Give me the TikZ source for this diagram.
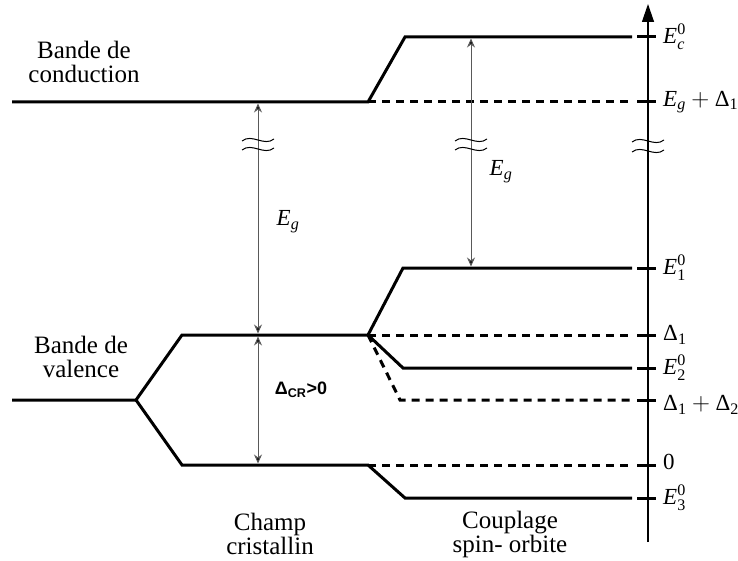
\documentclass[tikz,border=0pt]{standalone}
\usepackage{amsmath}
\usepackage{fontspec}
\setmainfont{Liberation Serif}
\setsansfont{Liberation Sans}
\usetikzlibrary{arrows.meta}
\newcommand{\vE}{\textit{E}}
\newcommand{\vD}{\text{Δ}}
\newcommand{\vi}[1]{\textit{#1}}
\newcommand{\vn}[1]{\text{#1}}
\begin{document}
\begin{tikzpicture}[x=1pt,y=-1pt,
  level/.style={line width=3pt},
  dlevel/.style={line width=3pt,dash pattern=on 8pt off 6pt},
  tick/.style={line width=3pt},
  gap/.style={draw=black!65,line width=1pt,{Stealth[length=9pt,width=8pt,fill=black]}-{Stealth[length=9pt,width=8pt,fill=black]},shorten <=1.5pt,shorten >=1.5pt},
  brk/.style={line width=1pt},
  lbl/.style={font=\fontsize{25}{24}\selectfont,align=center},
  elbl/.style={font=\fontsize{23}{25}\selectfont,anchor=west,inner sep=0pt}]
\useasboundingbox (0,0) rectangle (738,561);
% coordinates
\coordinate (cL) at (12,102);
\coordinate (cK) at (368,102);
\coordinate (cU) at (405,37);
\coordinate (cR) at (632,37);
\coordinate (cD) at (632,102);
\coordinate (vL) at (12,400);
\coordinate (vK) at (136,400);
\coordinate (vU) at (182,335);
\coordinate (vB) at (182,465);
\coordinate (uK) at (368,335);
\coordinate (bK) at (368,465);
\coordinate (e1a) at (403,268);
\coordinate (e1b) at (632,268);
\coordinate (d1) at (632,335);
\coordinate (e2a) at (403,368);
\coordinate (e2b) at (632,368);
\coordinate (d12a) at (400,400);
\coordinate (d12b) at (632,400);
\coordinate (z0) at (632,465);
\coordinate (e3a) at (405,498);
\coordinate (e3b) at (632,498);
% axis
\coordinate (axB) at (648,542);
\coordinate (axT) at (648,4);
\draw[line width=1.3pt,-{Triangle[length=18pt,width=12pt]}] (axB) -- (axT);
% ticks
\foreach \yy in {37,102,268,335,368,400,465,498}
  \draw[tick] (637,\yy) -- (656,\yy);
% conduction
\draw[level] (cL) -- (cK) -- (cU) -- (cR);
\draw[dlevel] (cK) -- (cD);
% valence
\draw[level] (vL) -- (vK) -- (vU) -- (uK) -- (e1a) -- (e1b);
\draw[level] (vK) -- (vB) -- (bK) -- (e3a) -- (e3b);
\draw[level] (uK) -- (e2a) -- (e2b);
\draw[dlevel] (uK) -- (d1);
\draw[dlevel] (uK) -- (d12a) -- (d12b);
\draw[dlevel] (bK) -- (z0);
% arrows
\coordinate (a1t) at (258,102);
\coordinate (a1b) at (258,335);
\coordinate (a2b) at (258,465);
\coordinate (a3t) at (471,37);
\coordinate (a3b) at (471,268);
\draw[gap] (a1b) -- (a1t);
\draw[gap] (a2b) -- (a1b);
\draw[gap] (a3b) -- (a3t);
% break marks
\foreach \xx/\yy in {258/140,258/149,471/140,471/149,648/141,648/151}
  \draw[brk] (\xx-16,\yy+1) .. controls (\xx-6,\yy-7) and (\xx+6,\yy+7) .. (\xx+16,\yy-1);
% labels
\node[lbl] (tc) at (84,62) {Bande de\\conduction};
\node[lbl] (tv) at (81,357) {Bande de\\valence};
\node[lbl] (tch) at (270,534) {Champ\\cristallin};
\node[lbl] (tcp) at (510,534) {Couplage\\spin- orbite};
\node[font=\fontsize{23}{25}\selectfont] (eg1) at (288,222) {$\vE_{\vi{g}}$};
\node[font=\fontsize{23}{25}\selectfont] (eg2) at (501,172) {$\vE_{\vi{g}}$};
\node[font=\fontsize{18}{20}\selectfont\sffamily\bfseries] (dcr) at (301,390) {Δ\textsubscript{CR}>0};
\node[elbl] (lc) at (663,37) {$\vE^{\vn{0}}_{\vi{c}}$};
\node[elbl] (lg) at (663,102) {$\vE_{\vi{g}}+\vD_{\vn{1}}$};
\node[elbl] (l1) at (663,268) {$\vE^{\vn{0}}_{\vn{1}}$};
\node[elbl] (ld1) at (663,335) {$\vD_{\vn{1}}$};
\node[elbl] (l2) at (663,368) {$\vE^{\vn{0}}_{\vn{2}}$};
\node[elbl] (ld12) at (663,405) {$\vD_{\vn{1}}+\vD_{\vn{2}}$};
\node[elbl] (lz) at (663,462) {$\vn{0}$};
\node[elbl] (l3) at (663,498) {$\vE^{\vn{0}}_{\vn{3}}$};
\end{tikzpicture}
\end{document}
